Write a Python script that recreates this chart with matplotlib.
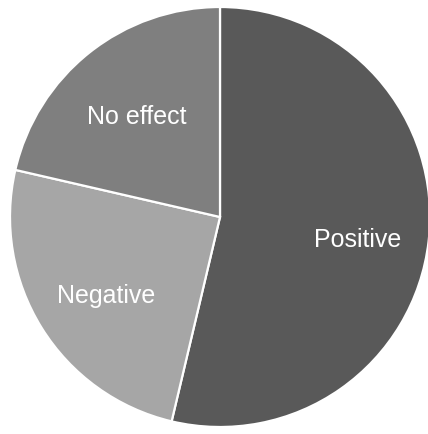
import matplotlib
matplotlib.use("Agg")
import matplotlib.pyplot as plt

# Share of responses by effect type
categories = ["Positive", "Negative", "No effect"]
shares = [53.7, 24.9, 21.4]
colors = ["#595959", "#a6a6a6", "#7f7f7f"]

W, H, DPI = 428, 434, 100
fig = plt.figure(figsize=(W / DPI, H / DPI), dpi=DPI)
cx, cy, r = 220, 217, 210
ax = fig.add_axes([(cx - r) / W, (H - cy - r) / H, 2 * r / W, 2 * r / H])

wedges, texts = ax.pie(
    shares,
    labels=categories,
    colors=colors,
    startangle=90,
    counterclock=False,
    radius=1,
    labeldistance=0.65,
    wedgeprops=dict(edgecolor="white", linewidth=1.6),
    textprops=dict(color="white", fontsize=18, family="Liberation Sans",
                   ha="center", va="center_baseline"),
)
# nudge labels slightly downward
for t in texts:
    x, y = t.get_position()
    t.set_position((x + 0.01, y - 0.02))

ax.set_xlim(-1, 1)
ax.set_ylim(-1, 1)
ax.set_aspect("equal")
ax.axis("off")

fig.savefig("out.png", dpi=DPI, facecolor="white")
